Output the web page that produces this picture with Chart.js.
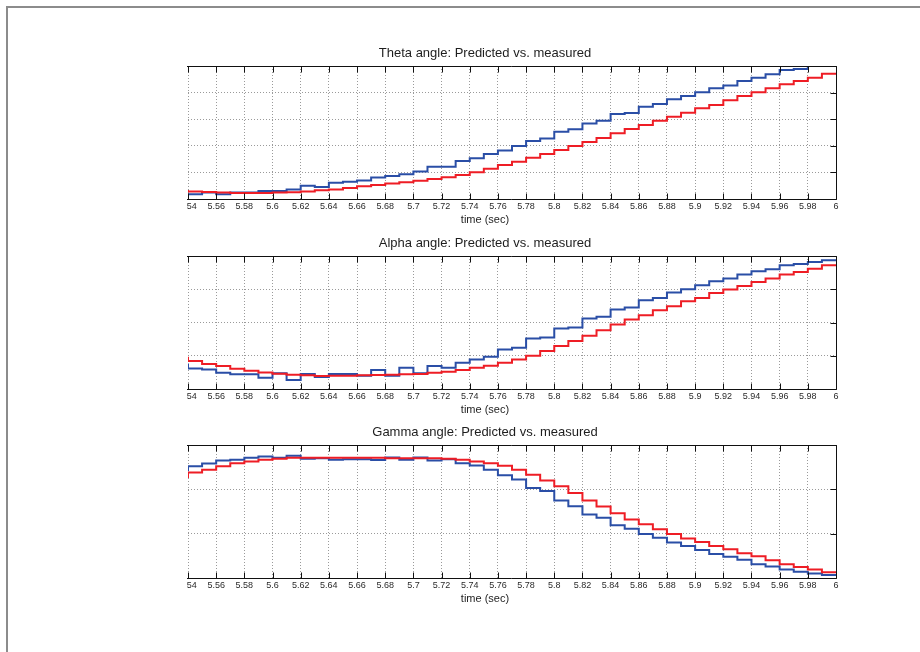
<!DOCTYPE html>
<html>
<head>
<meta charset="utf-8">
<script src="https://cdn.jsdelivr.net/npm/chart.js@4/dist/chart.umd.min.js"></script>
<style>
  html, body { margin: 0; padding: 0; background: #fff; }
  #page { position: relative; width: 920px; height: 652px; overflow: hidden; }
  #frame { position: absolute; left: 6px; top: 6px; width: 960px; height: 700px;
           border-left: 2px solid #8c8c8c; border-top: 2px solid #8c8c8c; }
  .clip { position: absolute; left: 187px; width: 663px; height: 183px; overflow: hidden; }
  .clip canvas { position: absolute; left: -53px; top: 0; }
</style>
</head>
<body>
<div id="page">
  <div id="frame"></div>
  <div class="clip" style="top:45px"><canvas id="theta" width="716" height="183"></canvas></div>
  <div class="clip" style="top:235px"><canvas id="alpha" width="716" height="183"></canvas></div>
  <div class="clip" style="top:424px"><canvas id="gamma" width="716" height="183"></canvas></div>
</div>
<script>
// --- Data (sample times in sec, angles in plot units) ---
const times = [5.53, 5.54, 5.55, 5.56, 5.57, 5.58, 5.59, 5.60, 5.61, 5.62, 5.63, 5.64, 5.65, 5.66, 5.67, 5.68,
  5.69, 5.70, 5.71, 5.72, 5.73, 5.74, 5.75, 5.76, 5.77, 5.78, 5.79, 5.80, 5.81, 5.82, 5.83, 5.84,
  5.85, 5.86, 5.87, 5.88, 5.89, 5.90, 5.91, 5.92, 5.93, 5.94, 5.95, 5.96, 5.97, 5.98, 5.99, 6.00];

const thetaPredicted = [0.18, 0.18, 0.24, 0.18, 0.24, 0.24, 0.30, 0.30, 0.36, 0.50, 0.45, 0.61, 0.65, 0.70, 0.81, 0.86,
  0.93, 1.03, 1.21, 1.21, 1.43, 1.53, 1.69, 1.82, 1.99, 2.18, 2.27, 2.53, 2.62, 2.84, 2.94, 3.20,
  3.23, 3.47, 3.57, 3.75, 3.87, 4.01, 4.16, 4.27, 4.44, 4.56, 4.69, 4.85, 4.89, 5.05, 5.15, 5.25];
const thetaMeasured = [0.30, 0.28, 0.26, 0.24, 0.23, 0.23, 0.23, 0.24, 0.25, 0.28, 0.33, 0.36, 0.41, 0.48, 0.53, 0.58,
  0.63, 0.69, 0.75, 0.82, 0.90, 1.01, 1.14, 1.28, 1.40, 1.55, 1.69, 1.84, 1.99, 2.14, 2.29, 2.47,
  2.63, 2.78, 2.94, 3.09, 3.24, 3.41, 3.53, 3.71, 3.87, 4.01, 4.16, 4.31, 4.44, 4.56, 4.71, 4.71];

const alphaPredicted = [0.74, 0.62, 0.59, 0.49, 0.44, 0.44, 0.34, 0.47, 0.27, 0.45, 0.36, 0.45, 0.45, 0.40, 0.57, 0.40,
  0.64, 0.47, 0.69, 0.64, 0.79, 0.89, 0.97, 1.19, 1.24, 1.52, 1.55, 1.82, 1.85, 2.12, 2.17, 2.39,
  2.45, 2.67, 2.74, 2.90, 3.00, 3.12, 3.24, 3.32, 3.44, 3.54, 3.60, 3.72, 3.76, 3.82, 3.87, 3.87];
const alphaMeasured = [0.94, 0.84, 0.75, 0.69, 0.61, 0.55, 0.50, 0.46, 0.43, 0.41, 0.39, 0.40, 0.40, 0.41, 0.42, 0.43,
  0.44, 0.45, 0.49, 0.52, 0.57, 0.64, 0.70, 0.79, 0.89, 1.00, 1.14, 1.29, 1.44, 1.60, 1.77, 1.94,
  2.09, 2.22, 2.37, 2.49, 2.64, 2.74, 2.89, 2.99, 3.10, 3.22, 3.32, 3.44, 3.52, 3.62, 3.72, 3.72];

const gammaPredicted = [2.43, 2.52, 2.58, 2.65, 2.67, 2.71, 2.74, 2.71, 2.76, 2.69, 2.70, 2.67, 2.68, 2.68, 2.66, 2.72,
  2.67, 2.72, 2.65, 2.68, 2.59, 2.54, 2.44, 2.32, 2.22, 2.03, 1.96, 1.75, 1.62, 1.43, 1.36, 1.19,
  1.11, 0.99, 0.91, 0.80, 0.72, 0.63, 0.54, 0.48, 0.41, 0.31, 0.26, 0.19, 0.14, 0.10, 0.07, 0.07];
const gammaMeasured = [2.28, 2.38, 2.44, 2.52, 2.59, 2.63, 2.67, 2.69, 2.71, 2.71, 2.71, 2.71, 2.71, 2.71, 2.71, 2.70,
  2.70, 2.70, 2.70, 2.69, 2.67, 2.63, 2.59, 2.53, 2.44, 2.33, 2.20, 2.07, 1.92, 1.75, 1.61, 1.46,
  1.32, 1.21, 1.10, 0.99, 0.89, 0.81, 0.72, 0.65, 0.56, 0.49, 0.40, 0.31, 0.25, 0.19, 0.13, 0.13];

const xMin = 5.54, xMax = 6, xStep = 0.02;

// --- Styles ---
const BLUE = "#2a4ea6";
const RED = "#ee1d25";
const FONT = "'Liberation Sans', Arial, sans-serif";

// --- Box + inward tick marks, like a MATLAB axes ---
const axesBox = {
  id: "axesBox",
  afterDraw(chart) {
    const { ctx, chartArea: a, scales: { x, y } } = chart;
    const al = v => Math.round(v) + 0.5;
    const tl = 6;
    ctx.save();
    ctx.strokeStyle = "#111";
    ctx.lineWidth = 1;
    ctx.beginPath();
    ctx.moveTo(a.left - 1, al(a.top)); ctx.lineTo(al(a.right), al(a.top));
    ctx.lineTo(al(a.right), al(a.bottom)); ctx.lineTo(a.left - 1, al(a.bottom));
    x.ticks.forEach(t => {
      const px = al(x.getPixelForValue(t.value));
      ctx.moveTo(px, al(a.top)); ctx.lineTo(px, al(a.top) + tl);
      ctx.moveTo(px, al(a.bottom)); ctx.lineTo(px, al(a.bottom) - tl);
    });
    y.ticks.forEach(t => {
      const py = al(y.getPixelForValue(t.value));
      ctx.moveTo(al(a.right), py); ctx.lineTo(al(a.right) - tl, py);
    });
    ctx.stroke();
    ctx.restore();
  }
};

const pts = vals => vals.map((v, i) => ({ x: times[i], y: v }));

const grid = { color: "#9a9a9a", lineWidth: 1, drawTicks: false };

function makeChart(id, title, yMax, predicted, measured) {
  return new Chart(document.getElementById(id), {
    type: "line",
    data: {
      datasets: [
        { data: pts(measured), borderColor: RED, borderWidth: 2, pointRadius: 0, stepped: "before", clip: 0 },
        { data: pts(predicted), borderColor: BLUE, borderWidth: 2, pointRadius: 0, stepped: "before", clip: 0 }
      ]
    },
    options: {
      responsive: false,
      animation: false,
      layout: { padding: { left: 0, right: 14, top: 0, bottom: 0 } },
      plugins: {
        legend: { display: false },
        tooltip: { enabled: false },
        title: {
          display: true, text: title, color: "#1e1e1e",
          font: { family: FONT, size: 13, weight: "normal", lineHeight: "16px" },
          padding: { top: 0, bottom: 5 }
        },
        subtitle: {
          display: true, position: "bottom", text: "time (sec)", color: "#1e1e1e",
          font: { family: FONT, size: 11, weight: "normal", lineHeight: "13px" },
          padding: { top: 0, bottom: 2 }
        }
      },
      scales: {
        x: {
          type: "linear", min: xMin, max: xMax,
          afterFit(s) { s.height = 14; },
          grid: grid,
          border: { display: false, dash: [1, 2] },
          ticks: {
            stepSize: xStep, autoSkip: false, maxRotation: 0, padding: 2, color: "#2a2a2a",
            font: { family: FONT, size: 9 },
            callback: v => String(+v.toFixed(2))
          }
        },
        y: {
          min: 0, max: yMax,
          afterFit(s) { s.width = 54; },
          grid: grid,
          border: { display: false, dash: [1, 2] },
          ticks: { stepSize: 1, display: false }
        }
      }
    },
    plugins: [axesBox]
  });
}

// --- Start ---
makeChart("theta", "Theta angle: Predicted vs. measured", 5, thetaPredicted, thetaMeasured);
makeChart("alpha", "Alpha angle: Predicted vs. measured", 4, alphaPredicted, alphaMeasured);
makeChart("gamma", "Gamma angle: Predicted vs. measured", 3, gammaPredicted, gammaMeasured);
</script>
</body>
</html>
